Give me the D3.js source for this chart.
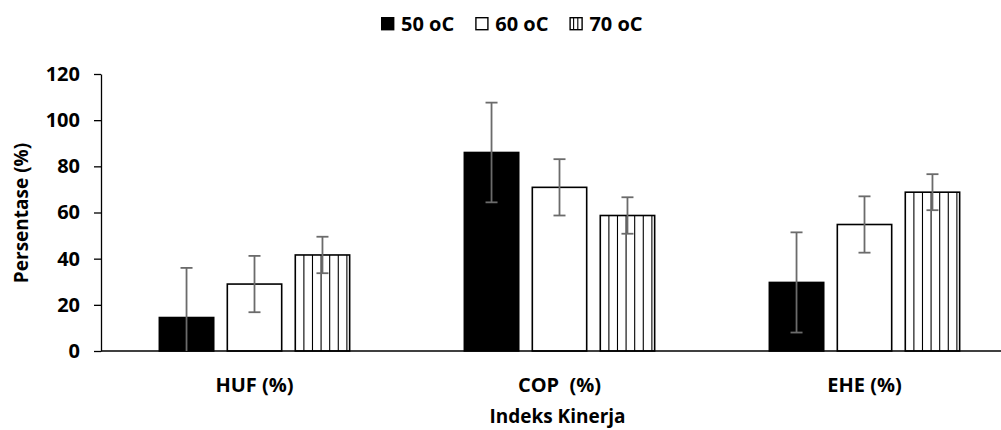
<!DOCTYPE html>
<html>
<head>
<meta charset="utf-8">
<script src="https://cdn.jsdelivr.net/npm/d3@7"></script>
<style>
  body { margin: 0; background: #fff; }
  svg text { font-family: "Open Sans", sans-serif; font-weight: bold; fill: #000; }
</style>
</head>
<body>
<div id="chart"></div>
<script>
// data
const categories = ["HUF (%)", "COP  (%)", "EHE (%)"];
const seriesNames = ["50 oC", "60 oC", "70 oC"];
const values50 = [14.5, 86.0, 29.7];
const values60 = [29.0, 70.9, 54.8];
const values70 = [41.6, 58.7, 68.8];
const err50 = [21.5, 21.6, 21.7];
const err60 = [12.2, 12.2, 12.2];
const err70 = [7.9, 7.9, 7.8];
const yTicks = [0, 20, 40, 60, 80, 100, 120];

const width = 1001;
const height = 430;
const margin = { top: 74, right: -16, bottom: 79, left: 101 };
const stripeStep = 8.6;

const series = [
  { name: seriesNames[0], values: values50, err: err50, style: "solid" },
  { name: seriesNames[1], values: values60, err: err60, style: "empty" },
  { name: seriesNames[2], values: values70, err: err70, style: "striped" }
];

const svg = d3.select("#chart").append("svg")
  .attr("width", width)
  .attr("height", height);

const x0 = d3.scaleBand()
  .domain(categories)
  .range([margin.left + 1, width - margin.right])
  .paddingInner(0.376)
  .paddingOuter(0.188);

const x1 = d3.scaleBand()
  .domain(seriesNames)
  .range([0, x0.bandwidth()])
  .paddingInner(0.2)
  .paddingOuter(0);

const y = d3.scaleLinear()
  .domain([0, 120])
  .range([height - margin.bottom, margin.top]);

// y axis
const yAxis = svg.append("g")
  .attr("transform", `translate(${margin.left}, 0)`)
  .call(d3.axisLeft(y).tickValues(yTicks).tickSize(7).tickSizeOuter(0).tickPadding(14));
yAxis.select(".domain").attr("stroke", "#000").attr("stroke-width", 1.3);
yAxis.selectAll(".tick line").attr("stroke", "#000").attr("stroke-width", 1.3);
yAxis.selectAll(".tick text")
  .style("font-size", "20px")
  .style("font-family", "'Open Sans', sans-serif")
  .style("font-weight", "bold")
  .attr("fill", "#000");

// bars
const groups = svg.append("g").attr("class", "bars")
  .selectAll("g")
  .data(series)
  .join("g");

groups.each(function (s) {
  const g = d3.select(this);
  categories.forEach((c, i) => {
    const bx = x0(c) + x1(s.name);
    const bw = x1.bandwidth();
    const by = y(s.values[i]);
    const bh = y(0) - by;
    g.append("rect")
      .attr("x", bx).attr("y", by)
      .attr("width", bw).attr("height", bh)
      .attr("fill", s.style === "solid" ? "#000" : "#fff")
      .attr("stroke", "#000")
      .attr("stroke-width", 1.6);
    if (s.style === "striped") {
      for (let k = 1; k * stripeStep < bw - 1; k++) {
        g.append("line")
          .attr("x1", bx + k * stripeStep).attr("x2", bx + k * stripeStep)
          .attr("y1", by).attr("y2", y(0))
          .attr("stroke", "#000").attr("stroke-width", 1.1);
      }
    }
  });
});

// x axis line (drawn over the bar bottoms)
svg.append("line")
  .attr("x1", margin.left).attr("x2", width)
  .attr("y1", y(0)).attr("y2", y(0))
  .attr("stroke", "#000").attr("stroke-width", 1.3);

// error bars
const errG = svg.append("g").attr("class", "errors");
series.forEach(s => {
  categories.forEach((c, i) => {
    const cx = x0(c) + x1(s.name) + x1.bandwidth() / 2;
    const hi = s.values[i] + s.err[i];
    const lo = s.values[i] - s.err[i];
    errG.append("line")
      .attr("x1", cx).attr("x2", cx)
      .attr("y1", y(hi)).attr("y2", y(Math.max(lo, 0)))
      .attr("stroke", "#6b6b6b").attr("stroke-width", 1.8);
    [hi, lo].filter(v => v >= 0).forEach(v => {
      errG.append("line")
        .attr("x1", cx - 6).attr("x2", cx + 6)
        .attr("y1", y(v)).attr("y2", y(v))
        .attr("stroke", "#6b6b6b").attr("stroke-width", 1.8);
    });
  });
});

// category labels
svg.append("g").selectAll("text")
  .data(categories)
  .join("text")
  .attr("x", d => x0(d) + x0.bandwidth() / 2)
  .attr("y", 392)
  .attr("text-anchor", "middle")
  .style("font-size", "20px")
  .style("white-space", "pre")
  .text(d => d);

// axis titles
svg.append("text")
  .attr("x", (margin.left + 1000) / 2 + 7)
  .attr("y", 423)
  .attr("text-anchor", "middle")
  .style("font-size", "19px")
  .text("Indeks Kinerja");

svg.append("text")
  .attr("transform", "translate(28, 213) rotate(-90)")
  .attr("text-anchor", "middle")
  .style("font-size", "19px")
  .text("Persentase (%)");

// legend
const legend = svg.append("g").attr("class", "legend");
let lx = 381;
series.forEach(s => {
  const g = legend.append("g").attr("transform", `translate(${lx}, 17)`);
  g.append("rect")
    .attr("x", 0.7).attr("y", 0.7)
    .attr("width", 12).attr("height", 12)
    .attr("fill", s.style === "solid" ? "#000" : "#fff")
    .attr("stroke", "#000").attr("stroke-width", 1.4);
  if (s.style === "striped") {
    [4.2, 8.4].forEach(sx => {
      g.append("line")
        .attr("x1", sx).attr("x2", sx).attr("y1", 0.7).attr("y2", 12.7)
        .attr("stroke", "#000").attr("stroke-width", 1.1);
    });
  }
  const t = g.append("text")
    .attr("x", 20).attr("y", 13.5)
    .style("font-size", "20px")
    .text(s.name);
  lx += 20 + t.node().getComputedTextLength() + 21;
});
</script>
</body>
</html>
